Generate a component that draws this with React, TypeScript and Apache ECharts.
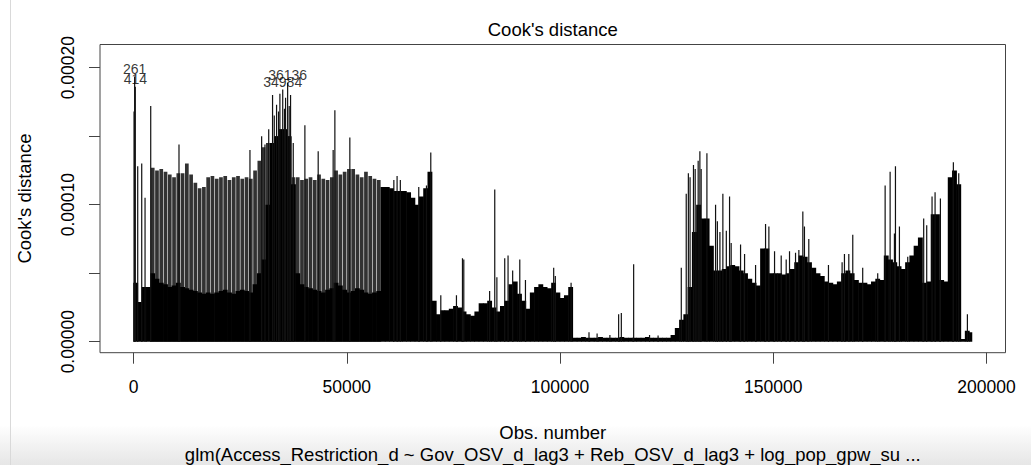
import React, { useEffect, useRef } from "react";
import * as echarts from "echarts";

// ---------- data (Cook's distance values in units of 1e-5) ----------
const N_OBS = 196600;
const BIN = 1000; // observations per bin of the dense envelope

// solid black body of the spike cloud, one value per 1000-observation bin (bins 0..196)
const BODY = [
  4.3, 2.9, 4.0, 4.0,
  5.0, 4.6, 4.3, 4.2, 4.0, 4.1, 4.3, 4.0, 3.9, 3.8, 3.7, 3.6, 3.5, 3.6, 3.5, 3.6,
  3.7, 3.8, 3.6, 3.5, 3.7, 3.8, 3.7, 3.6, 4.2, 5.0, 6.0, 10.0,
  14.5, 15.0, 15.5, 15.5, 15.0, 11.5,
  5.0, 4.2, 4.0, 3.9, 3.8, 3.7, 3.6, 3.8, 3.9, 4.3, 4.1, 3.8, 3.6, 3.7, 3.9, 3.8,
  3.6, 3.5, 3.6, 3.7,
  11.3, 11.3, 11.2, 11.0, 11.0, 11.0, 10.9, 10.5, 10.0, 10.6, 11.2, 12.4,
  3.0, 2.0, 2.3, 2.3, 2.4, 2.6, 2.5, 2.2, 2.0, 1.9, 2.2, 2.8, 2.8, 3.0, 2.5, 2.2,
  2.6, 3.0, 4.2, 4.4, 3.5, 3.0, 2.4, 3.6, 4.0, 4.2, 4.0, 3.9, 4.3, 3.6, 3.2, 3.4, 4.0,
  0.3, 0.3, 0.35, 0.3, 0.3, 0.3, 0.35, 0.3, 0.3, 0.3, 0.3, 0.35, 0.3, 0.3, 0.3, 0.3,
  0.3, 0.35, 0.3, 0.3, 0.3, 0.3, 0.3,
  0.5, 1.0, 1.6, 2.0,
  4.0, 8.0, 10.0, 9.0, 9.0, 7.0, 5.2, 5.2, 5.3, 5.5, 5.6, 5.5, 5.2, 5.0, 4.6, 4.3,
  4.1, 6.8, 6.8, 5.0, 5.0, 5.0, 4.9, 5.0, 5.3, 5.8, 6.3, 6.2, 5.8, 5.4, 5.0, 4.8,
  4.4, 4.3, 4.2, 4.4, 5.0, 5.2, 5.0, 4.5, 4.3, 4.3, 4.2, 4.4, 4.6, 4.5, 6.3, 6.0,
  5.8, 5.5, 5.3, 5.8, 6.3, 7.0, 7.6, 4.3, 4.4, 9.3, 9.3, 4.5, 4.4, 12.0, 12.5, 11.5,
  0.2, 0.8, 0.7,
];

// grey striped band (bins 4..57): maximum of each 1000-observation bin
const STRIPE_FIRST_BIN = 4;
const STRIPE = [
  12.7, 12.5, 12.6, 12.4, 12.2, 12.0, 12.3, 12.3, 13.0, 12.2, 11.6, 11.2, 11.3, 12.0,
  12.1, 11.9, 12.0, 12.1, 11.8, 12.0, 12.1, 11.9, 12.0, 11.9, 12.5, 13.2, 14.2, 14.5,
  14.5, 15.0, 15.5, 15.5, 15.0, 12.0,
  12.0, 11.8, 11.9, 12.0, 11.8, 12.2, 11.9, 11.8, 12.0, 12.5, 12.2, 12.4, 12.6, 12.6,
  12.2, 12.0, 12.4, 12.1, 11.9, 11.8,
];

// individual tall spikes: [observation number, Cook's distance (1e-5)]
const SPIKES: [number, number][] = [
  [120, 16.8], [980, 12.8], [1920, 13.0], [2700, 10.5], [4030, 17.2], [10660, 14.4],
  [27300, 14.0], [30040, 15.0], [30820, 14.4], [31700, 15.5], [32600, 18.0],
  [33000, 16.5], [33540, 17.3], [34000, 16.8], [34320, 18.1], [35400, 17.0],
  [35650, 17.8], [36500, 17.2], [36820, 18.0], [37450, 14.5], [40180, 15.8],
  [43300, 13.9], [46810, 14.0], [47210, 16.9], [50720, 14.9],
  [61040, 11.8], [61800, 12.1], [62560, 11.8], [66880, 11.3], [68690, 11.4], [69700, 13.8],
  [72050, 3.4], [75720, 3.4], [77130, 6.1], [77440, 6.0], [83500, 3.7], [84700, 11.1],
  [85200, 4.7], [87040, 6.1], [87820, 6.3], [88900, 5.2], [90570, 6.0], [91900, 4.5],
  [98520, 5.4], [98900, 4.8], [102600, 4.3],
  [106800, 0.7], [108700, 0.6], [111700, 0.5], [113750, 2.0], [114380, 2.1],
  [117270, 5.65], [121000, 0.5], [123000, 0.45],
  [128440, 5.4], [129600, 10.8], [130100, 12.3], [130500, 12.0], [131300, 12.9],
  [131700, 12.6], [132400, 13.2], [132800, 13.9], [133100, 12.6], [134450, 13.75],
  [136480, 10.0], [136900, 8.8], [137500, 8.0], [138190, 10.8], [139000, 8.1],
  [139760, 10.6], [140140, 7.2], [142340, 7.1], [143280, 6.4], [145860, 5.6],
  [148200, 8.6], [148980, 8.4], [150310, 6.6], [151870, 6.3], [153040, 6.0],
  [153820, 6.6], [155230, 6.5], [156010, 6.7], [156940, 9.5], [157320, 8.4],
  [158340, 7.5], [162950, 5.6], [166150, 5.8], [166700, 6.4], [167720, 6.4],
  [168650, 7.8], [170980, 5.4], [174500, 5.0], [176240, 11.4], [177410, 12.4],
  [178420, 7.9], [178660, 12.8], [179590, 8.4], [181540, 6.2], [185280, 9.0],
  [185990, 8.5], [187240, 10.6], [187950, 10.9], [189200, 10.45], [192240, 13.1],
  [193500, 12.3], [195530, 2.0],
];

// the four most influential observations, labelled in the plot
const LABELED: [number, number][] = [
  [261, 19.35], [414, 18.6], [34984, 18.4], [36136, 18.9],
];

const X_TICKS = [0, 50000, 100000, 150000, 200000];
const Y_TICKS = [0, 5, 10, 15, 20];
const Y_LABELS = [0, 10, 20];

const TITLE = "Cook's distance";
const X_NAME = "Obs. number";
const Y_NAME = "Cook's distance";
const CAPTION = "glm(Access_Restriction_d ~ Gov_OSV_d_lag3 + Reb_OSV_d_lag3 + log_pop_gpw_su ...";

// ---------- chart ----------
const FONT = '"Liberation Sans", Arial, Helvetica, sans-serif';
const X_MIN = 1 - 0.04 * (N_OBS - 1);
const X_MAX = N_OBS + 0.04 * (N_OBS - 1);

function buildOption() {
  const bodyData = BODY.map((v, i) => [i * BIN + BIN / 2, v]);
  const stripeData = STRIPE.map((v, i) => [(i + STRIPE_FIRST_BIN) * BIN + BIN / 2, v]);
  const spikeData = SPIKES.concat(LABELED).map((d) => [d[0], d[1]]);

  return {
    animation: false,
    backgroundColor: "#fff",
    textStyle: { fontFamily: FONT },
    grid: {
      left: 100,
      top: 44.5,
      right: 25.5,
      bottom: 112.3,
      show: true,
      borderColor: "#444",
      borderWidth: 1,
      backgroundColor: "transparent",
      containLabel: false,
      outerBoundsMode: "none",
    },
    xAxis: {
      type: "value",
      min: X_MIN,
      max: X_MAX,
      name: X_NAME,
      nameLocation: "middle",
      nameGap: 70.5,
      nameTextStyle: { fontSize: 18.5, color: "#000", fontFamily: FONT },
      axisLine: { show: false, onZero: false },
      splitLine: { show: false },
      axisTick: {
        show: true,
        inside: false,
        length: 11,
        customValues: X_TICKS,
        lineStyle: { color: "#444", width: 1 },
      },
      axisLabel: {
        show: true,
        customValues: X_TICKS,
        margin: 25.5,
        fontSize: 17.5,
        color: "#000",
        fontFamily: FONT,
        formatter: (v: number) => String(v),
      },
    },
    yAxis: {
      type: "value",
      min: -0.8,
      max: 21.69,
      name: Y_NAME,
      nameLocation: "middle",
      nameRotate: 90,
      nameGap: 66,
      nameTextStyle: { fontSize: 18.5, color: "#000", fontFamily: FONT },
      axisLine: { show: false, onZero: false },
      splitLine: { show: false },
      axisTick: {
        show: true,
        inside: false,
        length: 11,
        customValues: Y_TICKS,
        lineStyle: { color: "#444", width: 1 },
      },
      axisLabel: {
        show: true,
        customValues: Y_LABELS,
        rotate: 90,
        margin: 23,
        fontSize: 17.5,
        color: "#000",
        fontFamily: FONT,
        formatter: (v: number) => (v / 1e5).toFixed(5),
      },
    },
    graphic: [
      {
        type: "rect",
        z: -100,
        shape: { x: 0, y: 425, width: 1031, height: 40 },
        style: {
          fill: new echarts.graphic.LinearGradient(0, 0, 0, 1, [
            { offset: 0, color: "#ffffff" },
            { offset: 1, color: "#e6e6e6" },
          ]),
        },
        silent: true,
      },
      {
        type: "line",
        z: -99,
        shape: { x1: 10.5, y1: 0, x2: 10.5, y2: 465 },
        style: { stroke: "#d9d9d9", lineWidth: 1 },
        silent: true,
      },
      {
        type: "text",
        x: 552.75,
        y: 29,
        style: {
          text: TITLE,
          fontSize: 18.5,
          fontFamily: FONT,
          fill: "#000",
          align: "center",
          verticalAlign: "middle",
        },
      },
      {
        type: "text",
        x: 552.75,
        y: 454,
        style: {
          text: CAPTION,
          fontSize: 18.5,
          fontFamily: FONT,
          fill: "#000",
          align: "center",
          verticalAlign: "middle",
        },
      },
    ],
    series: [
      {
        name: "stripes",
        type: "custom",
        clip: true,
        encode: { x: 0, y: 1 },
        data: stripeData,
        renderItem: (_p: any, api: any) => {
          const x = api.value(0);
          const v = api.value(1);
          const top = api.coord([x, v]);
          const base = api.coord([x, 0]);
          return {
            type: "rect",
            shape: { x: top[0] - 1.85, y: top[1], width: 3.7, height: base[1] - top[1] },
            style: { fill: "#323232" },
          };
        },
      },
      {
        name: "body",
        type: "custom",
        clip: true,
        encode: { x: 0, y: 1 },
        data: bodyData,
        renderItem: (_p: any, api: any) => {
          const x = api.value(0);
          const v = api.value(1);
          const a = api.coord([x - BIN / 2, v]);
          const b = api.coord([Math.min(x + BIN / 2, N_OBS), 0]);
          return {
            type: "rect",
            shape: { x: a[0] - 0.3, y: a[1], width: b[0] - a[0] + 0.6, height: b[1] - a[1] },
            style: { fill: "#000" },
          };
        },
      },
      {
        name: "spikes",
        type: "custom",
        clip: true,
        encode: { x: 0, y: 1 },
        data: spikeData,
        renderItem: (_p: any, api: any) => {
          const x = api.value(0);
          const v = api.value(1);
          const top = api.coord([x, v]);
          const base = api.coord([x, 0]);
          return {
            type: "rect",
            shape: { x: top[0] - 0.6, y: top[1], width: 1.2, height: base[1] - top[1] },
            style: { fill: "#111" },
          };
        },
      },
      {
        name: "labels",
        type: "scatter",
        data: LABELED,
        symbolSize: 0,
        silent: true,
        label: {
          show: true,
          position: "top",
          distance: 3,
          fontSize: 14,
          lineHeight: 10,
          color: "#000",
          fontFamily: FONT,
          formatter: (p: any) => String(p.value[0]),
        },
      },
    ],
  };
}

export default function App() {
  const ref = useRef<HTMLDivElement>(null);
  useEffect(() => {
    if (!ref.current) return;
    const chart = echarts.init(ref.current, null, { renderer: "svg" });
    chart.setOption(buildOption() as any);
    return () => chart.dispose();
  }, []);
  return (
    <div
      ref={ref}
      style={{ position: "fixed", left: 0, top: 0, width: 1031, height: 465, background: "#fff" }}
    />
  );
}
